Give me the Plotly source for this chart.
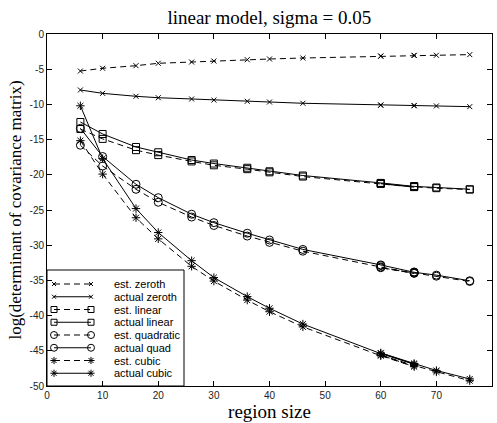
import plotly.graph_objects as go

# ---- data ----
region_size = [6, 10, 16, 20, 26, 30, 36, 40, 46, 60, 66, 60, 66, 70, 76]

est_zeroth = [-5.26, -4.87, -4.50, -4.16, -3.98, -3.84, -3.65, -3.55, -3.41, -3.13, -3.05, -3.15, -3.03, -3.02, -2.93]
act_zeroth = [-7.95, -8.43, -8.85, -9.05, -9.23, -9.38, -9.56, -9.66, -9.84, -10.08, -10.15, -10.12, -10.20, -10.22, -10.32]
est_linear = [-13.5, -14.9, -16.5, -17.2, -18.1, -18.65, -19.2, -19.65, -20.25, -21.3, -21.75, -21.25, -21.7, -21.9, -22.1]
act_linear = [-12.5, -14.2, -16.05, -16.8, -17.9, -18.4, -19.0, -19.5, -20.1, -21.15, -21.6, -21.2, -21.65, -21.8, -22.05]
est_quad = [-15.8, -18.75, -22.06, -23.9, -26.0, -27.2, -28.7, -29.6, -30.85, -33.1, -34.0, -33.2, -33.95, -34.4, -35.15]
act_quad = [-13.4, -17.4, -21.35, -23.25, -25.6, -26.8, -28.3, -29.26, -30.6, -32.8, -33.8, -32.9, -33.85, -34.25, -35.05]
est_cubic = [-15.15, -19.9, -26.1, -29.1, -33.0, -35.1, -37.8, -39.45, -41.6, -45.7, -47.25, -45.6, -47.1, -48.0, -49.25]
act_cubic = [-10.2, -17.7, -24.8, -28.2, -32.2, -34.6, -37.3, -38.96, -41.2, -45.4, -46.9, -45.3, -46.8, -47.8, -49.0]

series_names = ["est. zeroth", "actual zeroth", "est. linear", "actual linear",
                "est. quadratic", "actual quad", "est. cubic", "actual cubic"]
series_values = [est_zeroth, act_zeroth, est_linear, act_linear,
                 est_quad, act_quad, est_cubic, act_cubic]
series_symbols = ["x-thin-open", "x-thin-open", "square-open", "square-open",
                  "circle-open", "circle-open", "asterisk-open", "asterisk-open"]
series_sizes = [5, 5, 7, 7, 8, 8, 7, 7]
series_dash = ["6px,4px", "solid", "6px,4px", "solid", "6px,4px", "solid", "6px,4px", "solid"]

x_ticks = [0, 10, 20, 30, 40, 50, 60, 70, 80]
y_ticks = [0, -5, -10, -15, -20, -25, -30, -35, -40, -45, -50]

fig = go.Figure()

for name, vals, sym, sz, dash in zip(series_names, series_values, series_symbols, series_sizes, series_dash):
    fig.add_trace(go.Scatter(
        x=region_size, y=vals, mode="lines+markers", name=name,
        line=dict(color="black", width=1, dash=dash),
        marker=dict(symbol=sym, size=sz, color="black", line=dict(color="black", width=1)),
        showlegend=False,
    ))

# ---- manual MATLAB-style legend (overlay axes in plot-area pixels) ----
PW, PH = 445, 352
box_left, box_right, box_top = 0, 137, 236
row0, row_step = 250, 12.75
sample_x0, sample_x1, text_x = 7, 44, 65

fig.add_shape(type="rect", xref="x2", yref="y2", x0=box_left, x1=box_right, y0=box_top, y1=PH,
              line=dict(color="black", width=1), fillcolor="white", layer="below")

for i, (name, sym, sz, dash) in enumerate(zip(series_names, series_symbols, series_sizes, series_dash)):
    yy = row0 + i * row_step
    fig.add_trace(go.Scatter(
        x=[sample_x0, sample_x1], y=[yy, yy], xaxis="x2", yaxis="y2",
        mode="lines+markers", showlegend=False, hoverinfo="skip",
        line=dict(color="black", width=1, dash=dash),
        marker=dict(symbol=sym, size=sz - 1, color="black", line=dict(color="black", width=1)),
    ))
    fig.add_annotation(x=text_x, y=yy, xref="x2", yref="y2", text=name, showarrow=False,
                       xanchor="left", yanchor="middle",
                       font=dict(family="Liberation Sans, Arial", size=11, color="black"))

axis_common = dict(showline=True, linecolor="black", linewidth=1, mirror="ticks",
                   ticks="inside", ticklen=5, tickcolor="black", showgrid=False, zeroline=False,
                   tickfont=dict(family="Liberation Sans, Arial", size=10, color="#222"))

fig.update_layout(
    width=497, height=423,
    margin=dict(l=47, r=5, t=34, b=37),
    paper_bgcolor="white", plot_bgcolor="white",
    title=dict(text="linear model, sigma = 0.05", x=0.542, xanchor="center", y=0.958, yanchor="middle",
               font=dict(family="Liberation Serif, Times New Roman", size=19, color="black")),
    xaxis=dict(range=[0, 80], tickvals=x_ticks, ticktext=[str(t) for t in x_ticks],
               title=dict(text="region size", standoff=2,
                          font=dict(family="Liberation Serif, Times New Roman", size=19, color="black")),
               **axis_common),
    yaxis=dict(range=[-50, 0], tickvals=y_ticks, ticktext=[str(t) for t in y_ticks],
               title=dict(text="log(determinant of covariance matrix)", standoff=3,
                          font=dict(family="Liberation Serif, Times New Roman", size=17, color="black")),
               **axis_common),
    xaxis2=dict(range=[0, PW], overlaying="x", visible=False, fixedrange=True),
    yaxis2=dict(range=[PH, 0], overlaying="y", visible=False, fixedrange=True),
)

fig.write_html("out.html")
